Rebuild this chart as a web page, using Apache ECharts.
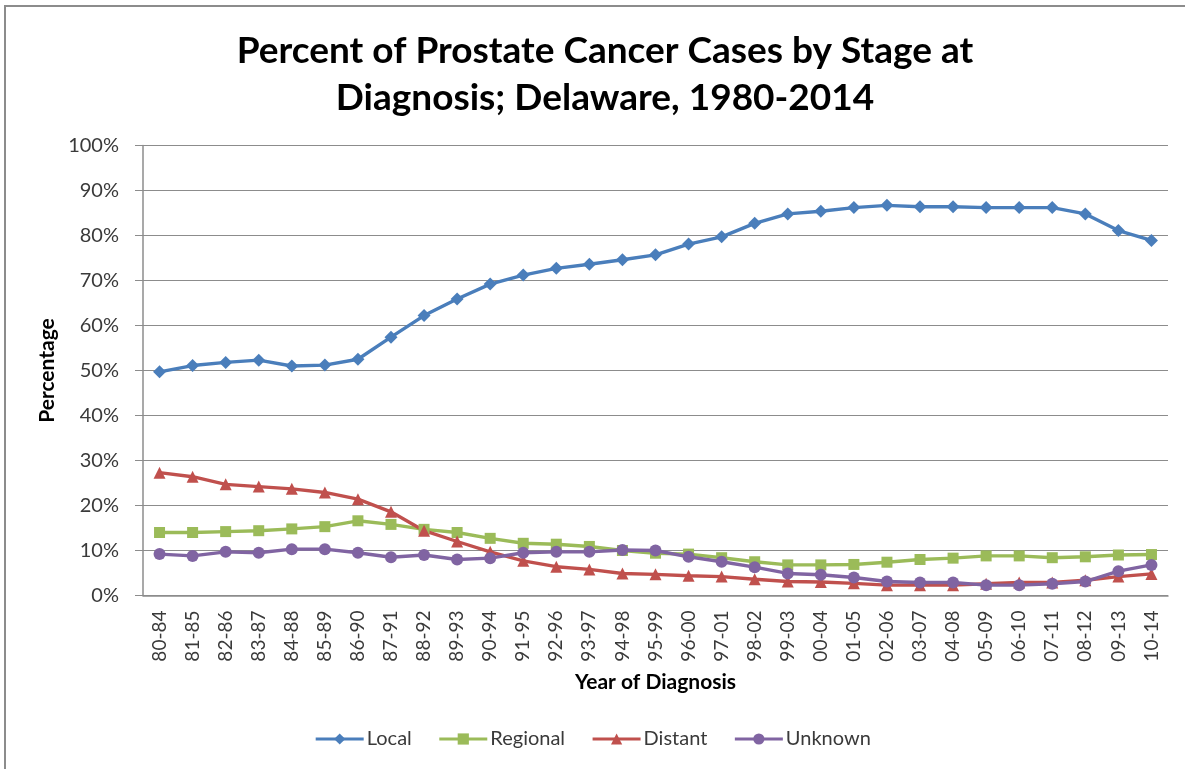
<!DOCTYPE html>
<html>
<head>
<meta charset="utf-8">
<title>Prostate Cancer Stage at Diagnosis, Delaware</title>
<script src="https://cdn.jsdelivr.net/npm/echarts@6/dist/echarts.min.js"></script>
<style>
  html, body { margin: 0; padding: 0; background: #fff; }
  #chart { width: 1185px; height: 769px; }
</style>
</head>
<body>
<div id="chart"></div>
<script>
// Five-year diagnosis periods
const periods = [
  '80-84', '81-85', '82-86', '83-87', '84-88', '85-89', '86-90', '87-91',
  '88-92', '89-93', '90-94', '91-95', '92-96', '93-97', '94-98', '95-99',
  '96-00', '97-01', '98-02', '99-03', '00-04', '01-05', '02-06', '03-07',
  '04-08', '05-09', '06-10', '07-11', '08-12', '09-13', '10-14'
];

// Percent of cases by stage
const local = [
  49.7, 51.1, 51.8, 52.3, 51.0, 51.2, 52.5, 57.4, 62.2, 65.9, 69.2, 71.2,
  72.7, 73.6, 74.6, 75.7, 78.1, 79.7, 82.7, 84.8, 85.4, 86.2, 86.7, 86.4,
  86.4, 86.2, 86.2, 86.2, 84.8, 81.1, 78.9
];
const regional = [
  14.0, 14.0, 14.2, 14.4, 14.8, 15.3, 16.6, 15.8, 14.7, 14.0, 12.7, 11.6,
  11.4, 10.9, 10.0, 9.4, 9.2, 8.4, 7.5, 6.8, 6.8, 6.9, 7.4, 8.0,
  8.3, 8.8, 8.8, 8.4, 8.6, 9.0, 9.1
];
const distant = [
  27.3, 26.4, 24.7, 24.2, 23.7, 22.9, 21.4, 18.6, 14.4, 12.0, 9.7, 7.7,
  6.4, 5.8, 4.9, 4.7, 4.4, 4.2, 3.6, 3.1, 3.0, 2.7, 2.3, 2.3,
  2.3, 2.6, 2.9, 2.9, 3.4, 4.2, 4.8
];
const unknown = [
  9.2, 8.8, 9.7, 9.5, 10.3, 10.3, 9.5, 8.5, 9.0, 8.0, 8.3, 9.5,
  9.7, 9.7, 10.1, 10.0, 8.6, 7.5, 6.3, 4.9, 4.6, 4.0, 3.1, 2.9,
  2.9, 2.3, 2.3, 2.6, 3.1, 5.4, 6.8
];

const yTicks = { min: 0, max: 100, interval: 10 };

const FONT = 'Lato, "Open Sans", "DejaVu Sans", sans-serif';
const TEXT = '#3a3a3a';

function stageSeries(name, data, color, symbol, size) {
  return {
    name: name,
    type: 'line',
    data: data,
    symbol: symbol,
    symbolSize: size,
    showAllSymbol: true,
    lineStyle: { color: color, width: 3.4 },
    itemStyle: { color: color },
    emphasis: { disabled: true },
    animation: false
  };
}

const chart = echarts.init(document.getElementById('chart'), null, { renderer: 'canvas' });

chart.setOption({
  backgroundColor: '#ffffff',
  animation: false,
  graphic: [{
    type: 'rect',
    shape: { x: 5, y: 6, width: 1400, height: 900 },
    style: { fill: 'none', stroke: '#8c8c8c', lineWidth: 2 },
    silent: true
  }],
  title: {
    text: 'Percent of Prostate Cancer Cases by Stage at\nDiagnosis; Delaware, 1980-2014',
    left: 600,
    textAlign: 'center',
    top: 23,
    textStyle: {
      fontFamily: FONT,
      fontWeight: 'bold',
      fontSize: 37,
      lineHeight: 47,
      color: '#000000'
    }
  },
  grid: {
    left: 143,
    right: 17,
    top: 145.5,
    bottom: 173.5,
    containLabel: false
  },
  legend: {
    bottom: 15,
    left: 'center',
    itemWidth: 48,
    itemHeight: 14,
    itemGap: 26,
    lineStyle: { width: 3 },
    textStyle: { fontFamily: FONT, fontSize: 20, color: TEXT, padding: [0, 0, 0, -2] },
    data: ['Local', 'Regional', 'Distant', 'Unknown']
  },
  xAxis: {
    type: 'category',
    data: periods,
    boundaryGap: true,
    name: 'Year of Diagnosis',
    nameLocation: 'middle',
    nameGap: 76,
    nameTextStyle: { fontFamily: FONT, fontWeight: 'bold', fontSize: 21, color: '#000' },
    axisLine: { lineStyle: { color: '#8c8c8c', width: 1.5 } },
    axisTick: { show: false },
    axisLabel: {
      rotate: 90,
      interval: 0,
      margin: 15,
      fontFamily: FONT,
      fontSize: 19,
      color: TEXT
    }
  },
  yAxis: {
    type: 'value',
    min: yTicks.min,
    max: yTicks.max,
    interval: yTicks.interval,
    name: 'Percentage',
    nameLocation: 'middle',
    nameGap: 82,
    nameTextStyle: { fontFamily: FONT, fontWeight: 'bold', fontSize: 21, color: '#000' },
    axisLine: { show: true, lineStyle: { color: '#8c8c8c', width: 1.5 } },
    axisTick: { show: true, inside: false, length: 8, lineStyle: { color: '#8c8c8c' } },
    splitLine: { lineStyle: { color: '#8c8c8c', width: 1.2 } },
    axisLabel: {
      formatter: '{value}%',
      margin: 24,
      fontFamily: FONT,
      fontSize: 20,
      color: TEXT
    }
  },
  series: [
    stageSeries('Local', local, '#4a7ebb', 'diamond', 13),
    stageSeries('Regional', regional, '#9bbb59', 'rect', 11),
    stageSeries('Distant', distant, '#c0504d', 'triangle', 12),
    stageSeries('Unknown', unknown, '#8064a2', 'circle', 12)
  ]
});
</script>
</body>
</html>
